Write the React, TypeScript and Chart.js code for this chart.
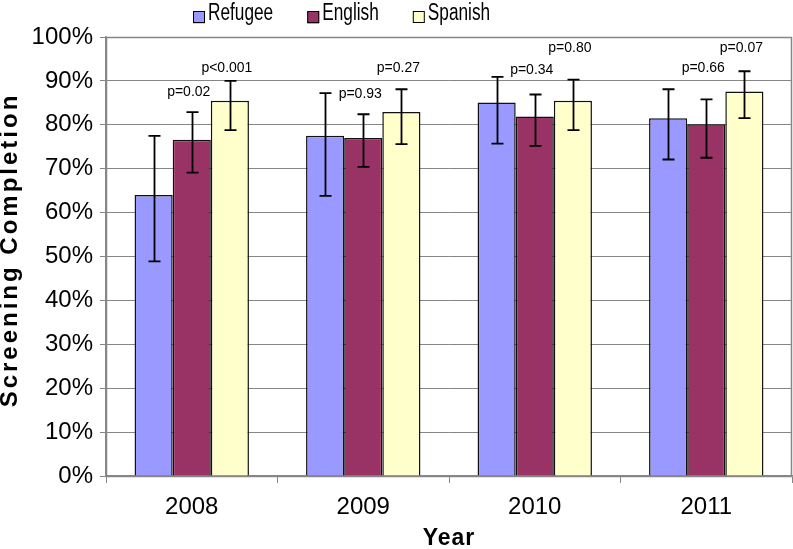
import React, { useEffect, useRef } from 'react';
import { Chart, registerables } from 'chart.js';

Chart.register(...registerables);

// ---------- data ----------
const categories = ['2008', '2009', '2010', '2011'];
const seriesNames = ['Refugee', 'English', 'Spanish'];

const refugee = [64.0, 77.5, 85.1, 81.5];
const refugeeLow = [48.9, 63.8, 75.7, 72.1];
const refugeeHigh = [77.5, 87.2, 90.9, 88.1];

const english = [76.6, 77.0, 81.9, 80.1];
const englishLow = [69.1, 70.4, 75.2, 72.5];
const englishHigh = [82.9, 82.4, 86.9, 85.8];

const spanish = [85.5, 82.9, 85.5, 87.6];
const spanishLow = [78.8, 75.6, 78.8, 81.5];
const spanishHigh = [90.0, 88.1, 90.3, 92.2];

// p-value annotations (text, anchored at a value on the y axis)
const englishP = ['p=0.02', 'p=0.93', 'p=0.34', 'p=0.66'];
const englishPAt = [87.4, 86.9, 92.5, 92.9];
const spanishP = ['p<0.001', 'p=0.27', 'p=0.80', 'p=0.07'];
const spanishPAt = [92.9, 92.9, 97.4, 97.5];

const yMin = 0;
const yMax = 100;
const yStep = 10;
const xTitle = 'Year';
const yTitle = 'Screening Completion';

// ---------- styles ----------
const W = 793;
const H = 549;
const FONT = "'Liberation Sans', Arial, sans-serif";
const GRID = '#868686';
const colors = ['#9999FF', '#993366', '#FFFFCC'];

const errorLows = [refugeeLow, englishLow, spanishLow];
const errorHighs = [refugeeHigh, englishHigh, spanishHigh];
const pTexts: (string[] | null)[] = [null, englishP, spanishP];
const pAts: (number[] | null)[] = [null, englishPAt, spanishPAt];

const frame = {
  id: 'frame',
  beforeDraw(chart: any) {
    const { ctx } = chart;
    ctx.save();
    ctx.fillStyle = '#ffffff';
    ctx.fillRect(0, 0, chart.width, chart.height);
    ctx.restore();
  },
  afterDraw(chart: any) {
    const { ctx, chartArea: a } = chart;
    ctx.save();
    ctx.strokeStyle = GRID;
    ctx.lineWidth = 1.5;
    ctx.strokeRect(Math.round(a.left) + 0.5, Math.round(a.top) + 0.5, Math.round(a.right - a.left) - 1, Math.round(a.bottom - a.top));
    ctx.restore();
  },
};

const errorBars = {
  id: 'errorBars',
  afterDatasetsDraw(chart: any) {
    const { ctx } = chart;
    const ys = chart.scales.y;
    ctx.save();
    ctx.strokeStyle = '#000000';
    ctx.lineWidth = 1.8;
    chart.data.datasets.forEach((_: any, i: number) => {
      const meta = chart.getDatasetMeta(i);
      meta.data.forEach((el: any, j: number) => {
        const x = Math.round(el.x) + 0.5;
        const yh = ys.getPixelForValue(errorHighs[i][j]);
        const yl = ys.getPixelForValue(errorLows[i][j]);
        ctx.beginPath();
        ctx.moveTo(x, yh);
        ctx.lineTo(x, yl);
        ctx.moveTo(x - 6, yh);
        ctx.lineTo(x + 6, yh);
        ctx.moveTo(x - 6, yl);
        ctx.lineTo(x + 6, yl);
        ctx.stroke();
      });
    });
    // p-value labels
    ctx.fillStyle = '#000000';
    ctx.font = `14px ${FONT}`;
    ctx.textAlign = 'center';
    ctx.textBaseline = 'middle';
    chart.data.datasets.forEach((_: any, i: number) => {
      const texts = pTexts[i];
      const ats = pAts[i];
      if (!texts || !ats) return;
      const meta = chart.getDatasetMeta(i);
      meta.data.forEach((el: any, j: number) => {
        ctx.fillText(texts[j], el.x - 3, ys.getPixelForValue(ats[j]));
      });
    });
    ctx.restore();
  },
};

const titlesAndLegend = {
  id: 'titlesAndLegend',
  afterDraw(chart: any) {
    const { ctx, chartArea: a } = chart;
    ctx.save();
    ctx.fillStyle = '#000000';
    // y title
    ctx.save();
    ctx.font = `bold 24px ${FONT}`;
    (ctx as any).letterSpacing = '3px';
    ctx.translate(10, (a.top + a.bottom) / 2 - 5);
    ctx.rotate(-Math.PI / 2);
    ctx.textAlign = 'center';
    ctx.textBaseline = 'middle';
    ctx.fillText(yTitle, 1.5, 0);
    ctx.restore();
    // x title
    ctx.save();
    ctx.font = `bold 23px ${FONT}`;
    (ctx as any).letterSpacing = '1px';
    ctx.textAlign = 'center';
    ctx.textBaseline = 'middle';
    ctx.fillText(xTitle, (a.left + a.right) / 2, 539);
    ctx.restore();
    // legend
    ctx.save();
    ctx.font = `23px ${FONT}`;
    const sx = 0.75;
    let x = 193;
    chart.data.datasets.forEach((ds: any) => {
      ctx.fillStyle = ds.backgroundColor;
      ctx.fillRect(x, 11.5, 12, 12);
      ctx.strokeStyle = '#000000';
      ctx.lineWidth = 1;
      ctx.strokeRect(x + 0.5, 11.5, 11, 11);
      const tw = ctx.measureText(ds.label).width * sx;
      ctx.save();
      ctx.translate(x + 15, 20);
      ctx.scale(sx, 1);
      ctx.fillStyle = '#000000';
      ctx.textAlign = 'left';
      ctx.textBaseline = 'alphabetic';
      ctx.fillText(ds.label, 0, 0);
      ctx.restore();
      x += 15 + tw + 34;
    });
    ctx.restore();
    ctx.restore();
  },
};

export default function App() {
  const ref = useRef<HTMLCanvasElement | null>(null);

  useEffect(() => {
    if (!ref.current) return;
    const values = [refugee, english, spanish];
    const chart = new Chart(ref.current, {
      type: 'bar',
      data: {
        labels: categories,
        datasets: seriesNames.map((name, i) => ({
          label: name,
          data: values[i],
          backgroundColor: colors[i],
          borderColor: '#111111',
          borderWidth: 1.5,
          categoryPercentage: 0.667,
          barPercentage: 1.0,
        })),
      },
      options: {
        responsive: false,
        animation: false,
        devicePixelRatio: 1,
        layout: { padding: { top: 37, right: 1, bottom: 0, left: 0 } },
        plugins: {
          legend: { display: false },
          tooltip: { enabled: false },
          title: { display: false },
        },
        scales: {
          x: {
            offset: true,
            grid: {
              offset: true,
              drawOnChartArea: false,
              drawTicks: true,
              tickLength: 7,
              color: GRID,
              lineWidth: 1,
            },
            border: { display: true, color: GRID, width: 1.5 },
            ticks: {
              color: '#000000',
              font: { family: FONT, size: 24 },
              padding: 10,
              maxRotation: 0,
            },
            afterFit(scale: any) {
              scale.height = 73;
            },
          },
          y: {
            min: yMin,
            max: yMax,
            grid: {
              color: GRID,
              lineWidth: 1,
              tickLength: 6,
              drawTicks: true,
            },
            border: { display: true, color: GRID, width: 1.5 },
            ticks: {
              stepSize: yStep,
              color: '#000000',
              font: { family: FONT, size: 24 },
              padding: 7,
              callback: (v: any) => `${v}%`,
            },
            afterFit(scale: any) {
              scale.width = 106;
            },
          },
        },
      },
      plugins: [frame, errorBars, titlesAndLegend],
    });
    return () => chart.destroy();
  }, []);

  return (
    <div style={{ position: 'absolute', left: 0, top: 0, width: W, height: H, background: '#fff' }}>
      <canvas ref={ref} width={W} height={H} style={{ display: 'block', width: W, height: H }} />
    </div>
  );
}
